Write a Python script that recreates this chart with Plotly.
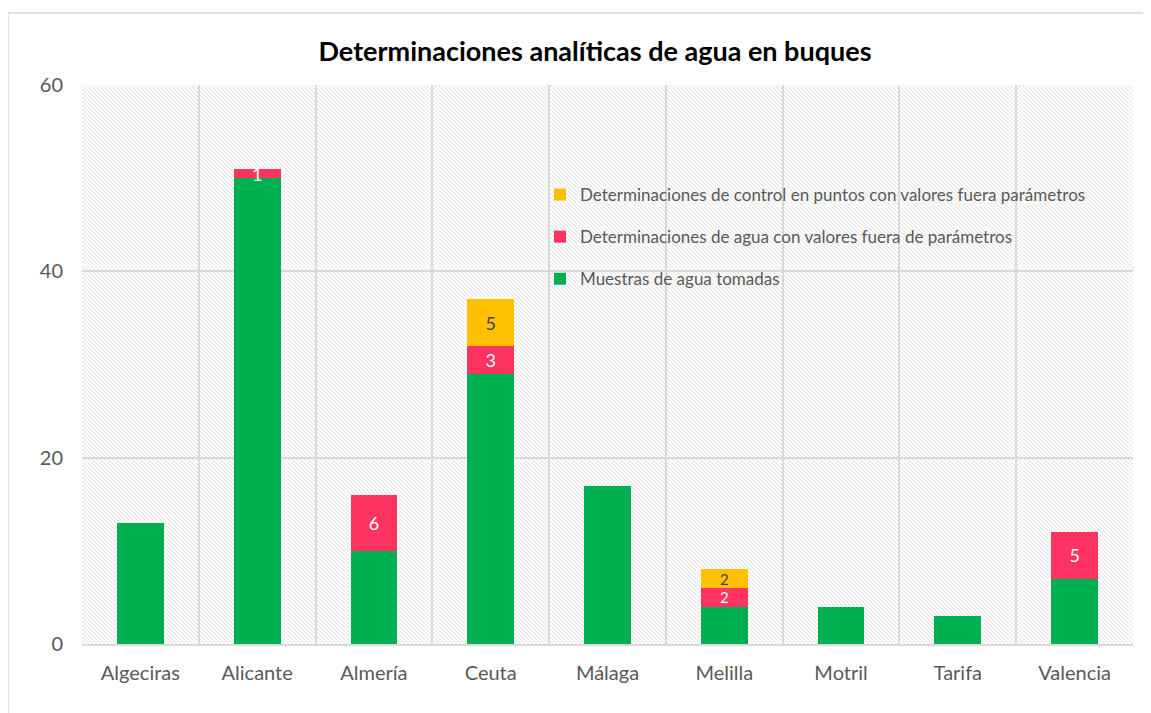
import plotly.graph_objects as go
import urllib.parse

categories = ["Algeciras", "Alicante", "Almería", "Ceuta", "Málaga", "Melilla", "Motril", "Tarifa", "Valencia"]
muestras = [13, 50, 10, 29, 17, 4, 4, 3, 7]
agua_fuera = [None, 1, 6, 3, None, 2, None, None, 5]
control_fuera = [None, None, None, 5, None, 2, None, None, None]

series_names = [
    "Muestras de agua tomadas",
    "Determinaciones de agua con valores fuera de parámetros",
    "Determinaciones de control en puntos con valores fuera parámetros",
]
y_ticks = [0, 20, 40, 60]

FONT = "Lato"
OFF = 8  # page body margin
W, H = 1151 - OFF, 713 - OFF
PW, PH = 1051, 559
ML, MT = 82 - OFF, 85 - OFF
MR, MB = W - ML - PW, H - MT - PH


def px_x(p):
    return (p - 82) / PW


def px_y(p):
    return (644 - p) / PH


# label font size: smaller where two short segments sit on top of each other
label_sizes = [15 if c == "Melilla" else 18 for c in categories]

fig = go.Figure()
fig.add_trace(go.Bar(
    x=categories, y=muestras, name=series_names[0],
    marker=dict(color="#00b050", line=dict(width=0)),
    legendgroup="a", legendrank=3,
))
fig.add_trace(go.Bar(
    x=categories, y=agua_fuera, name=series_names[1],
    marker=dict(color="#ff3361", line=dict(width=0)),
    text=[str(v) if v else "" for v in agua_fuera],
    textposition="inside", insidetextanchor="middle", constraintext="none",
    textangle=0,
    textfont=dict(family=FONT, size=label_sizes, color="#ffffff"),
    legendgroup="b", legendrank=2,
))
fig.add_trace(go.Bar(
    x=categories, y=control_fuera, name=series_names[2],
    marker=dict(color="#ffc000", line=dict(width=0)),
    text=[str(v) if v else "" for v in control_fuera],
    textposition="inside", insidetextanchor="middle", constraintext="none",
    textangle=0,
    textfont=dict(family=FONT, size=label_sizes, color="#404040"),
    legendgroup="c", legendrank=1,
))

svg = (
    f'<svg xmlns="http://www.w3.org/2000/svg" width="{PW}" height="{PH}" '
    f'viewBox="0 0 {PW} {PH}" preserveAspectRatio="none">'
    '<defs><pattern id="p" patternUnits="userSpaceOnUse" width="4" height="4">'
    '<path d="M-1,-1 L5,5 M-1,3 L1,5 M3,-1 L5,1" stroke="#e0e0e0" stroke-width="1"/>'
    '</pattern></defs>'
    f'<rect width="{PW}" height="{PH}" fill="url(#p)"/></svg>'
)
src = "data:image/svg+xml;charset=utf-8," + urllib.parse.quote(svg)

fig.update_layout(
    width=W, height=H,
    barmode="stack", bargap=0.6,
    paper_bgcolor="white", plot_bgcolor="white",
    margin=dict(l=ML, r=MR, t=MT, b=MB),
    font=dict(family=FONT, color="#595959"),
    title=dict(
        text="<b>Determinaciones analíticas de agua en buques</b>",
        x=px_x(595), xref="paper", xanchor="center",
        y=1 - (52 - OFF) / H, yanchor="middle",
        font=dict(family=FONT, size=27, color="#000000"),
    ),
    images=[dict(
        source=src, xref="paper", yref="paper", x=0, y=1,
        sizex=1, sizey=1, xanchor="left", yanchor="top",
        sizing="stretch", layer="below",
    )],
    legend=dict(
        x=px_x(540), y=px_y(177), xanchor="left", yanchor="top",
        bgcolor="rgba(0,0,0,0)", traceorder="grouped", tracegroupgap=17,
        font=dict(family=FONT, size=17, color="#595959"),
        itemwidth=30,
    ),
    showlegend=True,
    shapes=[dict(
        type="rect", xref="paper", yref="paper",
        x0=px_x(8), x1=px_x(1165),
        y0=px_y(725), y1=px_y(13),
        line=dict(color="#d9d9d9", width=1.5), layer="below",
    )],
)
fig.update_xaxes(
    type="category", tickson="boundaries", showgrid=True,
    gridcolor="#d9d9d9", gridwidth=1.5,
    showline=True, linecolor="#d9d9d9", linewidth=1.5,
    ticks="", tickfont=dict(family=FONT, size=20, color="#595959"),
    ticklabelstandoff=10,
)
fig.update_yaxes(
    range=[0, 60], tickvals=y_ticks, showgrid=True,
    gridcolor="#d9d9d9", gridwidth=1.5, zeroline=False,
    showline=False, ticks="",
    tickfont=dict(family=FONT, size=20, color="#595959"),
    ticklabelstandoff=18,
)

fig.write_html("out.html")
